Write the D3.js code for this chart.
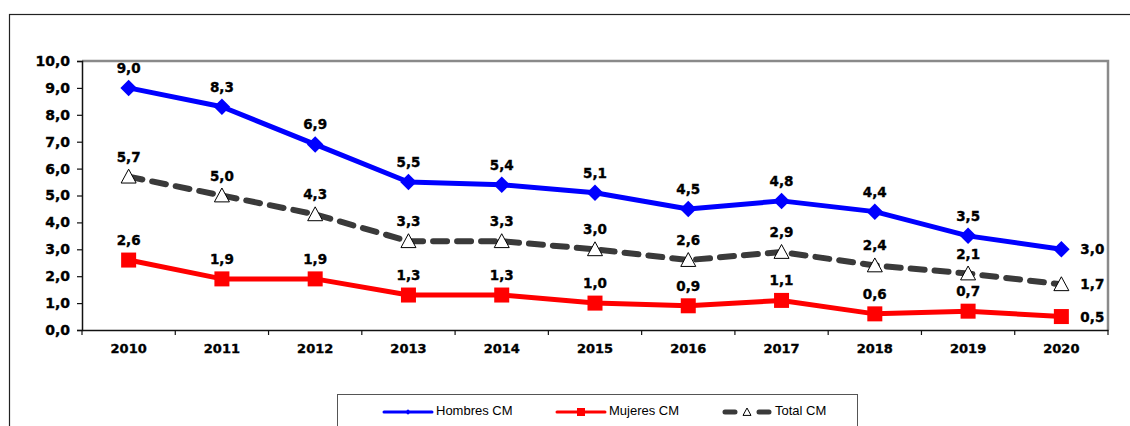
<!DOCTYPE html>
<html>
<head>
<meta charset="utf-8">
<script src="https://cdn.jsdelivr.net/npm/d3@7"></script>
<style>
  body { margin: 0; background: #fff; }
  svg text { font-family: "DejaVu Sans", Verdana, sans-serif; }
</style>
</head>
<body>
<svg id="svg"></svg>
<script>
const width = 1130;
const height = 426;

// data
const years = ["2010", "2011", "2012", "2013", "2014", "2015", "2016", "2017", "2018", "2019", "2020"];
const hombres = [9.0, 8.3, 6.9, 5.5, 5.4, 5.1, 4.5, 4.8, 4.4, 3.5, 3.0];
const mujeres = [2.6, 1.9, 1.9, 1.3, 1.3, 1.0, 0.9, 1.1, 0.6, 0.7, 0.5];
const total = [5.7, 5.0, 4.3, 3.3, 3.3, 3.0, 2.6, 2.9, 2.4, 2.1, 1.7];
const yTicks = [0, 1, 2, 3, 4, 5, 6, 7, 8, 9, 10];

const series = [
    { name: "Hombres CM", values: hombres, color: "#0000ff", marker: "diamond", width: 5 },
    { name: "Mujeres CM", values: mujeres, color: "#ff0000", marker: "square", width: 5 },
    { name: "Total CM", values: total, color: "#3a3a3a", marker: "triangle", width: 6, dash: "14,10" }
];

const fmt = v => v.toFixed(1).replace(".", ",");

let svg = d3.select("#svg").attr("width", width).attr("height", height);

// outer frame
svg.append("rect")
    .attr("x", 9.5).attr("y", 14.5)
    .attr("width", width + 20).attr("height", height + 20)
    .attr("fill", "none").attr("stroke", "#222").attr("stroke-width", 1.2);

const plot = { left: 82, top: 61, right: 1108, bottom: 330 };

let xScale = d3.scaleBand()
    .domain(years)
    .range([plot.left, plot.right]);

let yScale = d3.scaleLinear()
    .domain([0, 10])
    .range([plot.bottom, plot.top]);

// plot area border (grey top/right)
svg.append("path")
    .attr("d", `M${plot.left},${plot.top}H${plot.right}V${plot.bottom}`)
    .attr("fill", "none").attr("stroke", "#8a8a8a").attr("stroke-width", 2.5);

function boldText(sel, size) {
    sel.attr("font-size", size).attr("font-weight", "bold").attr("fill", "#000")
        .attr("stroke", "#000").attr("stroke-width", 0.35);
}

// y axis
const yAxis = svg.append("g")
    .attr("transform", `translate(${plot.left},0)`)
    .call(d3.axisLeft(yScale).tickValues(yTicks).tickSize(5).tickPadding(7).tickFormat(fmt));
yAxis.select(".domain").attr("stroke", "#111").attr("stroke-width", 1.5);
yAxis.selectAll(".tick line").attr("stroke", "#111").attr("stroke-width", 1.2);
yAxis.selectAll("text").call(boldText, 14);

// x axis
const xAxis = svg.append("g")
    .attr("transform", `translate(0,${plot.bottom})`)
    .call(d3.axisBottom(xScale).tickSize(0).tickPadding(14));
xAxis.select(".domain").attr("stroke", "#111").attr("stroke-width", 1.5);
xAxis.selectAll("text").call(boldText, 13);
// tick marks between categories
xAxis.selectAll(".sep")
    .data(d3.range(years.length + 1))
    .enter().append("line")
    .attr("class", "sep")
    .attr("x1", i => plot.left + i * xScale.step())
    .attr("x2", i => plot.left + i * xScale.step())
    .attr("y1", 0).attr("y2", 5)
    .attr("stroke", "#111").attr("stroke-width", 1.2);

const cx = (d, i) => xScale(years[i]) + xScale.bandwidth() / 2;

function drawMarker(g, type, color, size) {
    if (type === "diamond") {
        const s = size * 0.55;
        g.append("path").attr("d", `M0,${-s}L${s},0L0,${s}L${-s},0Z`).attr("fill", color);
    } else if (type === "square") {
        const s = size / 2;
        g.append("rect").attr("x", -s).attr("y", -s).attr("width", 2 * s).attr("height", 2 * s).attr("fill", color);
    } else {
        const s = size / 2;
        g.append("path").attr("d", `M0,${-s}L${s},${s * 0.85}L${-s},${s * 0.85}Z`)
            .attr("fill", "#fff").attr("stroke", "#000").attr("stroke-width", 1);
    }
}

const line = d3.line().x(cx).y(d => yScale(d));

series.forEach(s => {
    svg.append("path")
        .datum(s.values)
        .attr("d", line)
        .attr("fill", "none")
        .attr("stroke", s.color)
        .attr("stroke-width", s.width)
        .attr("stroke-linecap", s.dash ? "round" : "butt")
        .attr("stroke-linejoin", "round")
        .attr("stroke-dasharray", s.dash || null);
});

series.forEach(s => {
    s.values.forEach((v, i) => {
        const g = svg.append("g").attr("transform", `translate(${cx(v, i)},${yScale(v)})`);
        drawMarker(g, s.marker, s.color, 15);
    });
});

// data labels
series.forEach(s => {
    s.values.forEach((v, i) => {
        const last = i === years.length - 1;
        svg.append("text")
            .attr("x", last ? cx(v, i) + 19 : cx(v, i))
            .attr("y", last ? yScale(v) + 1 : yScale(v) - 19)
            .attr("text-anchor", last ? "start" : "middle")
            .attr("dominant-baseline", "middle")
            .call(boldText, 13.5)
            .text(fmt(v));
    });
});

// legend
const legend = svg.append("g");
legend.append("rect")
    .attr("x", 337.5).attr("y", 394.5)
    .attr("width", 520).attr("height", 60)
    .attr("fill", "#fff").attr("stroke", "#555").attr("stroke-width", 1);

const legendX = [384, 557, 723];
series.forEach((s, i) => {
    const x0 = legendX[i];
    const y0 = 412;
    legend.append("line")
        .attr("x1", x0 + (s.dash ? 2 : 0)).attr("x2", x0 + (s.dash ? 46 : 48))
        .attr("y1", y0).attr("y2", y0)
        .attr("stroke", s.color)
        .attr("stroke-width", s.dash ? 5 : 3)
        .attr("stroke-linecap", "round")
        .attr("stroke-dasharray", s.dash ? "10,24" : null);
    const g = legend.append("g").attr("transform", `translate(${x0 + 24},${y0})`);
    drawMarker(g, s.marker, s.color, s.marker === "diamond" ? 5 : 8);
    legend.append("text")
        .attr("x", x0 + 52).attr("y", y0)
        .attr("dominant-baseline", "middle")
        .style("font-family", "'Liberation Sans', Arial, sans-serif")
        .attr("font-size", 13).attr("fill", "#000")
        .text(s.name);
});
</script>
</body>
</html>
